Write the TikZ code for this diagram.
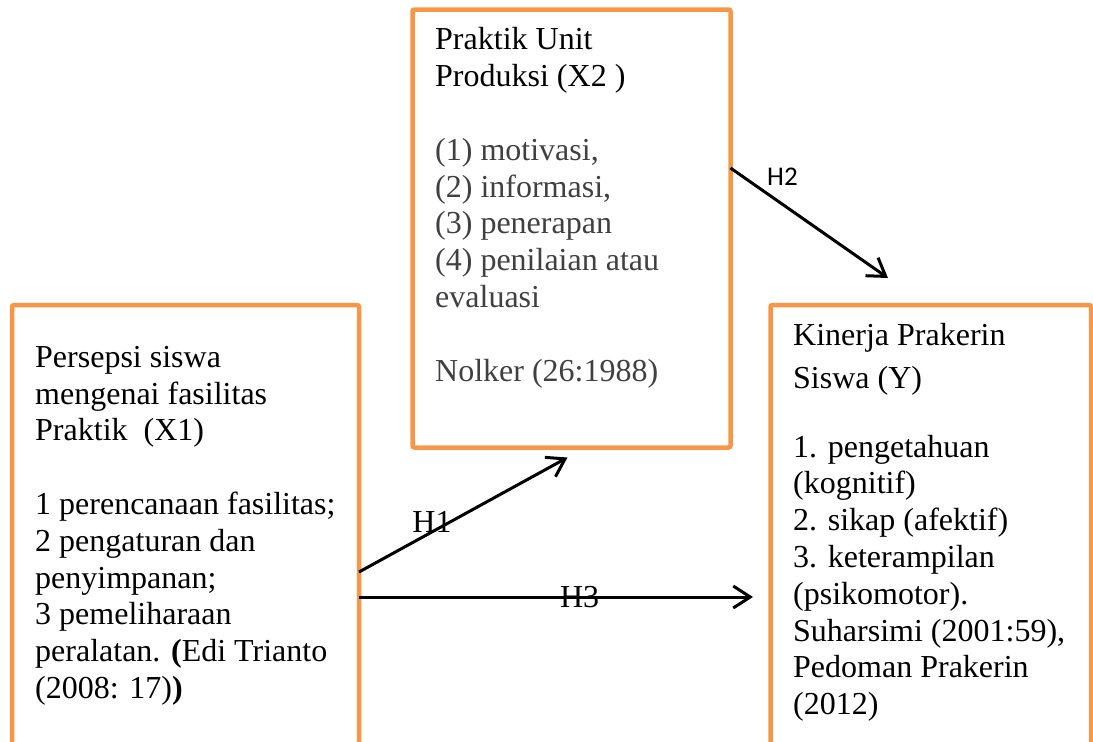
\documentclass[tikz,border=0pt]{standalone}
\usepackage{fontspec}
\setmainfont{Liberation Serif}
\newfontfamily\labelfont{Carlito}
\usetikzlibrary{arrows.meta, positioning}
\definecolor{boxorange}{HTML}{F79646}
\definecolor{listgray}{HTML}{404040}
\tikzstyle{box}=[draw=boxorange, line width=4.5pt, rounded corners=2pt,
                 outer sep=0pt, inner sep=0pt, anchor=north west]
\tikzstyle{txt}=[align=left, inner sep=0pt, anchor=north west,
                 font=\fontsize{32}{36.8}\selectfont]
\tikzstyle{link}=[line width=3pt, -{Straight Barb[length=17pt,width=22pt]}]
\tikzstyle{hyp}=[inner sep=0pt, font=\fontsize{32}{36.8}\selectfont]

\begin{document}
\begin{tikzpicture}[x=1pt, y=-1pt]
  \useasboundingbox (0,0) rectangle (1093,742);
  \clip (0,0) rectangle (1093,742);
  % boxes
  \node[box, minimum width=347pt, minimum height=480pt] (x1) at (12,305) {};
  \node[box, minimum width=318pt, minimum height=438pt] (x2) at (412.5,9.5) {};
  \node[box, minimum width=320.5pt, minimum height=480pt] (y) at (770.5,305) {};
  % texts
  \node[txt, below right=41pt and 23pt of x1.north west] (x1txt)
    {Persepsi siswa\\
     mengenai fasilitas\\
     Praktik\ \ (X1)\\[36.8pt]
     1 perencanaan fasilitas;\\
     2 pengaturan dan\\
     penyimpanan;\\
     3 pemeliharaan\\
     peralatan. \textbf{(}Edi Trianto\\
     (2008: 17)\textbf{)}};
  \node[txt, text=listgray, below right=18pt and 22.5pt of x2.north west] (x2txt)
    {\textcolor{black}{Praktik Unit}\\
     \textcolor{black}{Produksi (X2 )}\\[36.8pt]
     (1) motivasi,\\
     (2) informasi,\\
     (3) penerapan\\
     (4) penilaian atau\\
     evaluasi\\[36.8pt]
     Nolker (26:1988)};
  \node[txt, below right=18pt and 22.5pt of y.north west] (ytxt)
    {Kinerja Prakerin\\[6pt]
     Siswa (Y)\\[32pt]
     1. pengetahuan\\
     (kognitif)\\
     2. sikap (afektif)\\
     3. keterampilan\\
     (psikomotor).\\
     Suharsimi (2001:59),\\
     Pedoman Prakerin\\
     (2012)};
  % hypotheses
  \draw[link] ([yshift=-267pt]x1.north east)
    -- node[hyp, pos=.35, yshift=10pt] (h1) {H1}
    ([xshift=155pt,yshift=-10pt]x2.south west);
  \draw[link] ([yshift=-158.5pt]x2.north east)
    -- node[hyp, pos=.33, yshift=28pt, font=\labelfont\fontsize{27}{30}\selectfont] (h2) {H2}
    ([xshift=117.5pt,yshift=27pt]y.north west);
  \draw[link] ([yshift=-292pt]x1.north east)
    -- node[hyp, pos=.56] (h3) {H3}
    ([xshift=-17.5pt,yshift=-292pt]y.north west);
\end{tikzpicture}
\end{document}
